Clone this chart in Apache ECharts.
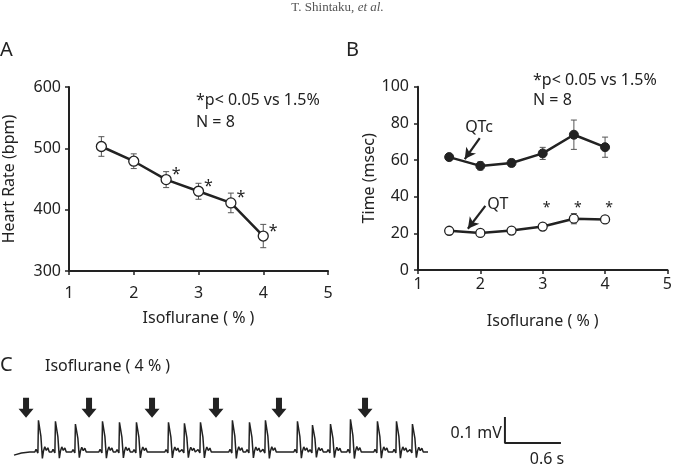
<!DOCTYPE html>
<html>
<head>
<meta charset="utf-8">
<script src="https://cdn.jsdelivr.net/npm/echarts@6/dist/echarts.min.js"></script>
<style>
  html, body { margin: 0; padding: 0; background: #fff; }
  #main { width: 675px; height: 464px; }
</style>
</head>
<body>
<div id="main"></div>
<script>
// isoflurane concentration (%)
const iso = [1.5, 2, 2.5, 3, 3.5, 4];

// panel A: heart rate (bpm) mean and error
const hrMean = [503, 479, 449, 430, 411, 357];
const hrErr = [16, 12, 13, 13, 16, 19];
const hrStar = [false, false, true, true, true, true];

// panel B: QTc and QT (msec)
const qtcMean = [61.6, 56.8, 58.4, 63.6, 73.8, 67];
const qtcErr = [1.2, 2.2, 2, 3.3, 8, 5.5];
const qtMean = [21.4, 20.2, 21.5, 23.7, 28, 27.6];
const qtErr = [0.6, 0.6, 0.6, 0.8, 2.8, 0.8];
const qtStar = [false, false, false, true, true, true];
const qtStarLevel = 35;

// annotation arrows in panel B (data coords)
const qtcArrow = [[1.99, 72], [1.75, 60.5]];
const qtArrow = [[2.08, 35], [1.8, 22.5]];
const qtcLabelPos = [1.98, 78];
const qtLabelPos = [2.28, 35.5];

// panel C: ECG, R-peak times (s) and R amplitudes (mV)
const rTimes = [0.268, 0.450, 0.664, 0.954, 1.136, 1.318, 1.661, 1.832, 2.004,
                2.346, 2.529, 2.700, 3.043, 3.204, 3.397, 3.611, 3.900, 4.104, 4.275];
const rAmp = [0.127, 0.123, 0.112, 0.123, 0.119, 0.119, 0.119, 0.115, 0.119,
              0.127, 0.119, 0.127, 0.123, 0.108, 0.112, 0.131, 0.123, 0.123, 0.112];
// one beat (time offset s, mV for a 0.125 mV R wave)
const beatT = [-0.045, -0.032, -0.02, -0.012, -0.006, 0, 0.004, 0.02, 0.03, 0.036, 0.048, 0.062, 0.078, 0.095, 0.11];
const beatV = [0, 0.01, 0.003, -0.004, 0.12, 0.125, 0.115, 0.06, 0.055, -0.024, 0.004, 0.02, 0.006, 0.016, 0];
const traceStart = [[0, -0.012], [0.08, -0.004], [0.17, 0.0]];
const traceEnd = 4.436;
// dropped beats (arrows), s
const arrowTimes = [0.129, 0.804, 1.479, 2.164, 2.839, 3.761];
const arrowLevel = 0.17;
// calibration bar: 0.1 mV x 0.6 s
const scaleBar = [[5.26, 0.135], [5.26, 0.035], [5.86, 0.035]];

const FONT = 'Noto Sans';
const INK = '#222';

let ecg = traceStart.slice();
for (let i = 0; i < rTimes.length; i++) {
    let k = rAmp[i] / 0.125;
    for (let j = 0; j < beatT.length; j++) {
        ecg.push([rTimes[i] + beatT[j], beatV[j] * k]);
    }
}
ecg.push([traceEnd, 0]);

function pairs(xs, ys) {
    return xs.map((x, i) => [x, ys[i]]);
}
function errData(xs, m, e) {
    return xs.map((x, i) => [x, m[i] - e[i], m[i] + e[i]]);
}
function errSeries(xi, yi, data) {
    return {
        type: 'custom',
        xAxisIndex: xi, yAxisIndex: yi,
        z: 1,
        data: data,
        renderItem: function (params, api) {
            let lo = api.coord([api.value(0), api.value(1)]);
            let hi = api.coord([api.value(0), api.value(2)]);
            let w = 3;
            let st = { stroke: '#555', lineWidth: 1 };
            return {
                type: 'group',
                children: [
                    { type: 'line', shape: { x1: lo[0], y1: lo[1], x2: hi[0], y2: hi[1] }, style: st },
                    { type: 'line', shape: { x1: lo[0] - w, y1: lo[1], x2: lo[0] + w, y2: lo[1] }, style: st },
                    { type: 'line', shape: { x1: hi[0] - w, y1: hi[1], x2: hi[0] + w, y2: hi[1] }, style: st }
                ]
            };
        }
    };
}
// text placed at data coords (custom series so it goes through the axes)
function textSeries(xi, yi, data, size, offset, align) {
    let off = offset || [0, 0];
    return {
        type: 'custom',
        xAxisIndex: xi, yAxisIndex: yi,
        silent: true,
        z: 5,
        data: data,
        renderItem: function (params, api) {
            let p = api.coord([api.value(0), api.value(1)]);
            return {
                type: 'text',
                x: p[0] + off[0], y: p[1] + off[1],
                style: {
                    text: data[params.dataIndex][2],
                    font: size + 'px "' + FONT + '"',
                    fill: INK,
                    align: align || 'center',
                    verticalAlign: 'middle'
                }
            };
        }
    };
}
function valAxis(grid, min, max, step, extra) {
    return Object.assign({
        gridIndex: grid, type: 'value', min: min, max: max, interval: step,
        axisLine: { show: true, onZero: false, lineStyle: { color: INK, width: 2 } },
        axisTick: { show: true, length: 4, lineStyle: { color: INK, width: 1.5 } },
        splitLine: { show: false },
        axisLabel: { fontFamily: FONT, fontSize: 16, color: INK },
        nameLocation: 'middle',
        nameTextStyle: { fontFamily: FONT, fontSize: 16, color: INK }
    }, extra);
}
function hidden(grid, min, max) {
    return { gridIndex: grid, type: 'value', min: min, max: max, show: false,
             splitLine: { show: false } };
}

let chart = echarts.init(document.getElementById('main'));

let option = {
    animation: false,
    backgroundColor: '#fff',
    grid: [
        { left: 68, top: 87, width: 260, height: 184 },
        { left: 418, top: 86.7, width: 253, height: 183.3 },
        { left: 14, top: 387, width: 560, height: 75.4 }
    ],
    xAxis: [
        valAxis(0, 1, 5, 1, { name: 'Isoflurane ( % )', nameGap: 39,
            axisLabel: { fontFamily: FONT, fontSize: 16, color: INK, margin: 14 } }),
        valAxis(1, 1, 5, 1, { name: 'Isoflurane ( % )', nameGap: 43,
            axisLabel: { fontFamily: FONT, fontSize: 16, color: INK, margin: 6 } }),
        hidden(2, 0, 6)
    ],
    yAxis: [
        valAxis(0, 300, 600, 100, { name: 'Heart Rate (bpm)', nameGap: 52,
            axisLabel: { fontFamily: FONT, fontSize: 16, color: INK, margin: 8 } }),
        valAxis(1, 0, 100, 20, { name: 'Time (msec)', nameGap: 35,
            axisLabel: { fontFamily: FONT, fontSize: 16, color: INK, margin: 9 } }),
        hidden(2, -0.04, 0.25)
    ],
    graphic: [
        { type: 'text', left: 'center', top: 1,
          style: {
              text: '{n|T. Shintaku,} {i|et al.}',
              rich: {
                  n: { fontFamily: 'Liberation Serif', fontSize: 13, fill: '#555' },
                  i: { fontFamily: 'Liberation Serif', fontSize: 13, fontStyle: 'italic', fill: '#555' }
              }
          } },
        { type: 'text', left: 0, top: 40, style: { text: 'A', font: '20px "Noto Sans"', fill: INK } },
        { type: 'text', left: 346, top: 40, style: { text: 'B', font: '20px "Noto Sans"', fill: INK } },
        { type: 'text', left: 0, top: 355, style: { text: 'C', font: '20px "Noto Sans"', fill: INK } },
        { type: 'text', left: 45, top: 358, style: { text: 'Isoflurane ( 4 % )', font: '16px "Noto Sans"', fill: INK } },
        { type: 'text', left: 196, top: 92, style: { text: '*p< 0.05 vs 1.5%', font: '16px "Noto Sans"', fill: INK } },
        { type: 'text', left: 196, top: 114, style: { text: 'N = 8', font: '16px "Noto Sans"', fill: INK } },
        { type: 'text', left: 533, top: 72, style: { text: '*p< 0.05 vs 1.5%', font: '16px "Noto Sans"', fill: INK } },
        { type: 'text', left: 533, top: 92, style: { text: 'N = 8', font: '16px "Noto Sans"', fill: INK } }
    ],
    series: [
        // panel A
        errSeries(0, 0, errData(iso, hrMean, hrErr)),
        {
            type: 'line', xAxisIndex: 0, yAxisIndex: 0, z: 3,
            data: pairs(iso, hrMean),
            symbol: 'circle', symbolSize: 10,
            itemStyle: { color: '#fff', borderColor: INK, borderWidth: 1.3 },
            lineStyle: { color: INK, width: 2.5 }
        },
        textSeries(0, 0, iso.map((x, i) => [x, hrMean[i], hrStar[i] ? '*' : '']), 16, [10, -5]),

        // panel B
        errSeries(1, 1, errData(iso, qtcMean, qtcErr)),
        errSeries(1, 1, errData(iso, qtMean, qtErr)),
        {
            type: 'line', xAxisIndex: 1, yAxisIndex: 1, z: 3,
            data: pairs(iso, qtcMean),
            symbol: 'circle', symbolSize: 9,
            itemStyle: { color: INK, borderColor: INK, borderWidth: 1 },
            lineStyle: { color: INK, width: 2.5 },
            markLine: {
                silent: true, symbol: ['none', 'arrow'], symbolSize: [9, 11],
                lineStyle: { color: INK, width: 2.2, type: 'solid', opacity: 1 },
                label: { show: false },
                data: [
                    [{ coord: qtcArrow[0] }, { coord: qtcArrow[1] }],
                    [{ coord: qtArrow[0] }, { coord: qtArrow[1] }]
                ]
            }
        },
        {
            type: 'line', xAxisIndex: 1, yAxisIndex: 1, z: 3,
            data: pairs(iso, qtMean),
            symbol: 'circle', symbolSize: 9,
            itemStyle: { color: '#fff', borderColor: INK, borderWidth: 1.3 },
            lineStyle: { color: INK, width: 2.5 }
        },
        textSeries(1, 1, iso.map((x, i) => [x, qtStarLevel, qtStar[i] ? '*' : '']), 14, [4, 2]),
        textSeries(1, 1, [[qtcLabelPos[0], qtcLabelPos[1], 'QTc'], [qtLabelPos[0], qtLabelPos[1], 'QT']], 16),

        // panel C
        {
            type: 'line', xAxisIndex: 2, yAxisIndex: 2,
            data: ecg, symbol: 'none',
            lineStyle: { color: '#222', width: 1.5 }
        },
        {
            type: 'scatter', xAxisIndex: 2, yAxisIndex: 2,
            data: arrowTimes.map(t => [t, arrowLevel]),
            symbol: 'path://M4.5,0 H10.5 V11 H15 L7.5,20 L0,11 H4.5 Z',
            symbolSize: [15, 20],
            itemStyle: { color: INK, opacity: 1 }
        },
        {
            type: 'line', xAxisIndex: 2, yAxisIndex: 2,
            data: scaleBar, symbol: 'none',
            lineStyle: { color: INK, width: 2 }
        },
        textSeries(2, 2, [[scaleBar[0][0], 0.073, '0.1 mV']], 16, [-3, 0], 'right'),
        textSeries(2, 2, [[5.71, -0.027, '0.6 s']], 16)
    ]
};

chart.setOption(option);
</script>
</body>
</html>
